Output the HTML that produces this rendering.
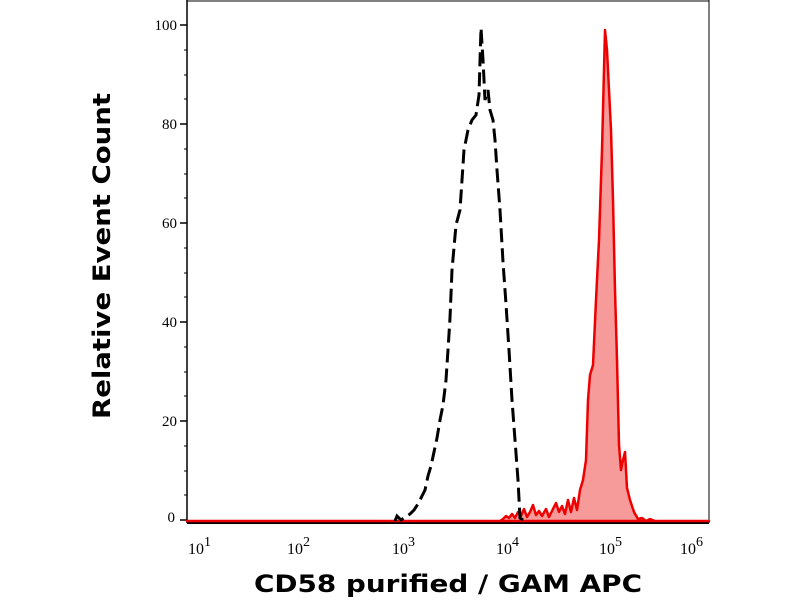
<!DOCTYPE html>
<html><head><style>body{margin:0;background:#fff}svg{display:block}</style></head><body>
<svg width="800" height="600" viewBox="0 0 800 600" xmlns="http://www.w3.org/2000/svg">
<rect width="800" height="600" fill="#fff"/>
<line x1="187" y1="1" x2="709" y2="1" stroke="#000" stroke-width="1"/>
<line x1="187" y1="0" x2="187" y2="523" stroke="#000" stroke-width="1.5"/>
<line x1="709" y1="0" x2="709" y2="523" stroke="#000" stroke-width="1"/>
<line x1="187" y1="523" x2="709" y2="523" stroke="#000" stroke-width="2"/>
<g stroke="#000" stroke-width="1.5">
<line x1="180" y1="25" x2="187" y2="25"/><line x1="180" y1="124" x2="187" y2="124"/>
<line x1="180" y1="223" x2="187" y2="223"/><line x1="180" y1="322" x2="187" y2="322"/>
<line x1="180" y1="421" x2="187" y2="421"/><line x1="180" y1="520" x2="187" y2="520"/>
</g>
<g stroke="#000" stroke-width="1">
<line x1="184" y1="50" x2="187" y2="50"/><line x1="184" y1="75" x2="187" y2="75"/><line x1="184" y1="99" x2="187" y2="99"/>
<line x1="184" y1="149" x2="187" y2="149"/><line x1="184" y1="174" x2="187" y2="174"/><line x1="184" y1="198" x2="187" y2="198"/>
<line x1="184" y1="248" x2="187" y2="248"/><line x1="184" y1="273" x2="187" y2="273"/><line x1="184" y1="297" x2="187" y2="297"/>
<line x1="184" y1="347" x2="187" y2="347"/><line x1="184" y1="372" x2="187" y2="372"/><line x1="184" y1="396" x2="187" y2="396"/>
<line x1="184" y1="446" x2="187" y2="446"/><line x1="184" y1="471" x2="187" y2="471"/><line x1="184" y1="495" x2="187" y2="495"/>
</g>
<g font-family="Liberation Serif, serif" font-size="15" text-anchor="end" fill="#000">
<text x="177" y="30">100</text><text x="177" y="129">80</text><text x="177" y="228">60</text>
<text x="177" y="327">40</text><text x="177" y="426">20</text><text x="175" y="522">0</text>
</g>
<g stroke="#000" stroke-width="1.3" id="xt"></g>
<g font-family="Liberation Serif, serif" font-size="16" fill="#000">
<text x="188" y="554">10<tspan dy="-8" font-size="14">1</tspan></text>
<text x="287" y="554">10<tspan dy="-8" font-size="14">2</tspan></text>
<text x="392" y="554">10<tspan dy="-8" font-size="14">3</tspan></text>
<text x="496" y="554">10<tspan dy="-8" font-size="14">4</tspan></text>
<text x="599" y="554">10<tspan dy="-8" font-size="14">5</tspan></text>
<text x="680" y="554">10<tspan dy="-8" font-size="14">6</tspan></text>
</g>
<path d="M187,521 L500,521 L503,519 L506,516 L509,518 L512,514 L515,518 L518,512 L521,516 L524,509 L527,517 L530,512 L533,505 L536,515 L539,511 L542,516 L546,509 L549,517 L552,511 L556,503 L559,512 L562,506 L565,514 L568,500 L571,512 L574,498 L577,510 L580,490 L583,480 L586,460 L588,400 L590,375 L593,365 L596,300 L599,240 L602,150 L605,30 L607,50 L609,90 L611,130 L613,200 L615,290 L617,360 L619,445 L621,470 L623,460 L625,452 L627,488 L630,500 L634,512 L638,519 L642,518 L646,521 L650,519 L655,521 L709,521 Z" fill="#f79a9a" stroke="#e00" stroke-width="2.5" stroke-linejoin="round"/>
<polyline fill="none" stroke="#000" stroke-width="3" stroke-dasharray="14,6" points="395,521 397,516 401,520 410,514 414,510 418,504 422,496 425,490 428,476 431,466 434,452 437,438 440,420 443,405 446,380 448,350 450,318 452,270 456,225 460,210 464,150 468,130 472,120 476,115 479,95 481,28 483,60 485,100 488,90 490,110 493,120 495,140 497,170 500,210 503,262 506,304 509,350 512,400 515,440 518,480 520,518 525,521"/>
<text x="448" y="592" font-family="DejaVu Sans, sans-serif" font-weight="bold" font-size="24" text-anchor="middle" textLength="388" lengthAdjust="spacingAndGlyphs">CD58 purified / GAM APC</text>
<text transform="translate(110,256) rotate(-90)" font-family="DejaVu Sans, sans-serif" font-weight="bold" font-size="24" text-anchor="middle" textLength="326" lengthAdjust="spacingAndGlyphs">Relative Event Count</text>
<script>
var g=document.getElementById('xt'),s='';
for(var d=1;d<=6;d++){var b=187+(d-1)*104;s+='<line x1="'+b+'" y1="523" x2="'+b+'" y2="532"/>';
if(d<6)for(var m=2;m<10;m++){var x=b+104*Math.log10(m);s+='<line x1="'+x+'" y1="523" x2="'+x+'" y2="528"/>';}}
g.innerHTML=s;
</script>
</svg>
</body></html>
